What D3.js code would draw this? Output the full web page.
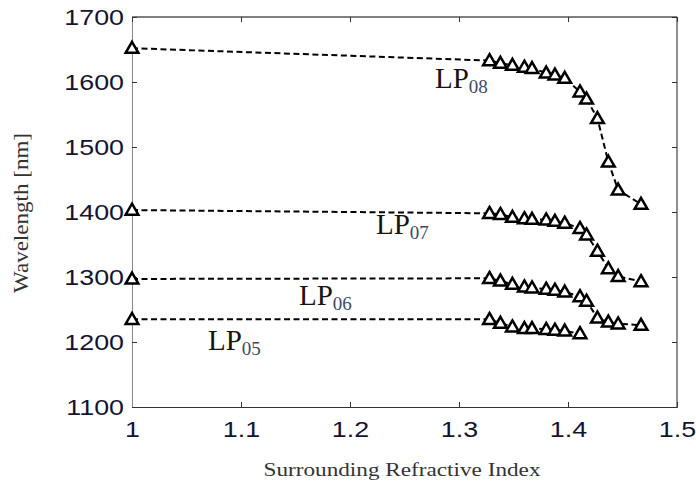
<!DOCTYPE html>
<html>
<head>
<meta charset="utf-8">
<script src="https://cdn.jsdelivr.net/npm/d3@7"></script>
<style>
  html, body { margin: 0; padding: 0; background: #fff; }
  svg { display: block; }
</style>
</head>
<body>
<svg id="chart" width="696" height="489"></svg>
<script>
// Surrounding refractive index sampled for each cladding mode
const xFirst = 1.0;
const xSweep = [1.328, 1.338, 1.349, 1.360, 1.367, 1.380, 1.388, 1.397, 1.411, 1.417, 1.427, 1.437, 1.446, 1.467];

// Resonance wavelength (nm) per mode: value at n = 1, then the sweep
const lp08 = [1652, 1633, 1629, 1626, 1623, 1621, 1614, 1611, 1606, 1585, 1574, 1544, 1477, 1434, 1412];
const lp07 = [1403, 1398, 1396.5, 1392, 1390, 1389, 1388, 1386, 1383, 1375, 1365, 1340, 1313, 1301, 1293];
const lp06 = [1297, 1298, 1294, 1289, 1285, 1283.5, 1281.5, 1280, 1277, 1270, 1263, 1237, 1231, 1228, 1226];
const lp05 = [1235, 1235, 1229, 1223.5, 1221, 1221, 1219.5, 1218.5, 1217, 1213];

const modeNames = ["08", "07", "06", "05"];
const xTicks = [1, 1.1, 1.2, 1.3, 1.4, 1.5];
const yTicks = [1100, 1200, 1300, 1400, 1500, 1600, 1700];
const xTitle = "Surrounding Refractive Index";
const yTitle = "Wavelength [nm]";

const svg = d3.select("#chart");
const plot = { left: 132, right: 677, top: 17, bottom: 407 };

const x = d3.scaleLinear().domain([1, 1.5]).range([plot.left, plot.right]);
const y = d3.scaleLinear().domain([1100, 1700]).range([plot.bottom, plot.top]);

function toPoints(vals) {
  const xs = [xFirst].concat(xSweep);
  return vals.map((v, i) => [xs[i], v]);
}
const series = [lp08, lp07, lp06, lp05].map(toPoints);

// Frame
svg.append("line").attr("x1", plot.left).attr("x2", plot.right).attr("y1", plot.top).attr("y2", plot.top)
  .attr("stroke", "#000").attr("stroke-width", 1);
svg.append("line").attr("x1", plot.right).attr("x2", plot.right).attr("y1", plot.top).attr("y2", plot.bottom)
  .attr("stroke", "#222").attr("stroke-width", 1);

// Axes (ticks pointing inward)
const tickFont = "'Liberation Sans', Arial, sans-serif";
const xAxis = svg.append("g").attr("transform", `translate(0,${plot.bottom})`)
  .call(d3.axisBottom(x).tickValues(xTicks).tickSize(-5).tickPadding(14).tickFormat(d3.format("")));
const yAxis = svg.append("g").attr("transform", `translate(${plot.left},0)`)
  .call(d3.axisLeft(y).tickValues(yTicks).tickSize(-5).tickPadding(8).tickFormat(d3.format("d")));
// mirrored ticks on top and right
svg.append("g").attr("transform", `translate(0,${plot.top})`)
  .call(d3.axisTop(x).tickValues(xTicks).tickSize(-5).tickFormat(""))
  .call(g => g.select(".domain").remove());
svg.append("g").attr("transform", `translate(${plot.right},0)`)
  .call(d3.axisRight(y).tickValues(yTicks).tickSize(-5).tickFormat(""))
  .call(g => g.select(".domain").remove());

xAxis.select(".domain").attr("stroke", "#333");
yAxis.select(".domain").attr("stroke", "#888");
svg.selectAll(".tick line").attr("stroke", "#333");

[xAxis, yAxis].forEach(g => g.selectAll(".tick text")
  .attr("font-family", tickFont).attr("font-size", 22).attr("fill", "#141432"));
xAxis.selectAll(".tick text").attr("dy", "0.71em");
yAxis.selectAll(".tick text").attr("dy", "0.36em");
// widen tick labels horizontally around their anchor
svg.selectAll(".tick text").each(function () {
  const t = d3.select(this);
  const bb = this.getBBox();
  const anchor = t.attr("text-anchor") || getComputedStyle(this).textAnchor;
  const ax = anchor === "end" ? bb.x + bb.width : bb.x + bb.width / 2;
  t.attr("transform", `translate(${ax},0) scale(1.22,1) translate(${-ax},0)`);
});

// Dashed mode curves
const line = d3.line().x(d => x(d[0])).y(d => y(d[1]));
svg.append("g").selectAll("path").data(series).join("path")
  .attr("d", line).attr("fill", "none").attr("stroke", "#000")
  .attr("stroke-width", 2).attr("stroke-dasharray", "6,3.5");

// Triangle markers
const tri = d3.symbol().type(d3.symbolTriangle).size(70);
svg.append("g").selectAll("path").data(series.flat()).join("path")
  .attr("d", tri)
  .attr("transform", d => `translate(${x(d[0])},${y(d[1]) + 1})`)
  .attr("fill", "#fff").attr("stroke", "#000").attr("stroke-width", 2.5);

// Mode labels
const labelPos = [[435, 88], [376, 234], [299, 305], [208, 350]];
modeNames.forEach((m, i) => {
  const t = svg.append("text").attr("x", labelPos[i][0]).attr("y", labelPos[i][1])
    .attr("font-family", "'Liberation Serif', 'Times New Roman', serif").attr("font-size", 29).attr("fill", "#1a1410");
  t.append("tspan").text("LP");
  t.append("tspan").attr("font-size", 19).attr("dy", 5).attr("fill", "#3c4a66").text(m);
});

// Axis titles
svg.append("text").attr("x", 402).attr("y", 476).attr("text-anchor", "middle")
  .attr("font-family", "'Liberation Serif', 'Times New Roman', serif").attr("font-size", 19)
  .attr("fill", "#333").attr("textLength", 277).attr("lengthAdjust", "spacingAndGlyphs").text(xTitle);
svg.append("text").attr("transform", "translate(28,213) rotate(-90)").attr("text-anchor", "middle")
  .attr("font-family", "'Liberation Serif', 'Times New Roman', serif").attr("font-size", 21)
  .attr("fill", "#333").attr("textLength", 160).attr("lengthAdjust", "spacingAndGlyphs").text(yTitle);
</script>
</body>
</html>
